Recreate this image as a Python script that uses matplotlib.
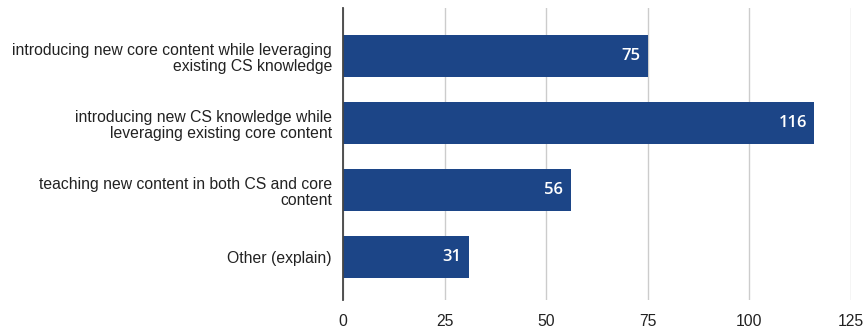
import matplotlib
matplotlib.use("Agg")
import matplotlib.pyplot as plt

categories = [
    "introducing new core content while leveraging\nexisting CS knowledge",
    "introducing new CS knowledge while\nleveraging existing core content",
    "teaching new content in both CS and core\ncontent",
    "Other (explain)",
]
values = [75, 116, 56, 31]
xticks = [0, 25, 50, 75, 100, 125]

plt.rcParams['font.family'] = ['Liberation Sans', 'DejaVu Sans']

fig = plt.figure(figsize=(8.67, 3.28), dpi=100)
ax = fig.add_axes([343/867, 1 - 300/328, (851-343)/867, (300-8)/328])

ypos = list(range(len(categories)))
bars = ax.barh(ypos, values, height=0.63, color="#1c4587", zorder=3)
for b, v in zip(bars, values):
    ax.text(v - 1.8, b.get_y() + b.get_height()/2, str(v), ha="right", va="center",
            color="white", fontsize=12, fontweight="semibold",
            family=["Open Sans", "DejaVu Sans"], zorder=4)

ax.set_yticks(ypos)
ax.set_yticklabels(categories, fontsize=11.3, color="#222222", linespacing=1.1)
ax.set_ylim(3.64, -0.72)
ax.set_xlim(0, 125)
ax.set_xticks(xticks)
ax.set_xticklabels([str(t) for t in xticks], fontsize=11.3, color="#222222")
ax.tick_params(axis="both", length=0, pad=8)
ax.tick_params(axis="x", pad=10)
ax.grid(axis="x", color="#cccccc", linewidth=1, zorder=0)
for s in ["top", "right", "bottom"]:
    ax.spines[s].set_visible(False)
ax.spines["left"].set_color("#444444")
ax.spines["left"].set_linewidth(1.3)
ax.spines["left"].set_zorder(5)

fig.savefig("out.png", dpi=100)
